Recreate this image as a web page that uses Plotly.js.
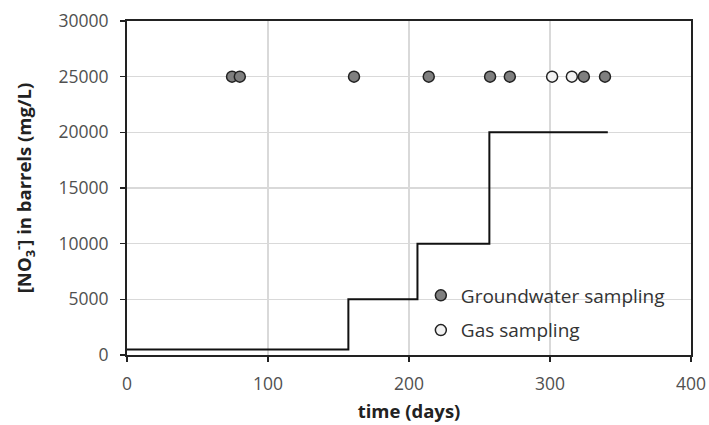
<!DOCTYPE html>
<html><head><meta charset="utf-8">
<script src="https://cdn.plot.ly/plotly-3.0.1.min.js"></script>
<style>body{margin:0;background:#fff}#c{width:709px;height:425px}</style>
</head><body><div id="c"></div>
<script>
const stepDays = [0, 157, 206, 257, 341];
const stepConc = [500, 5000, 10000, 20000, 20000];
const gwDays = [74.5, 80, 161, 214, 257.5, 271.5, 324, 339];
const gwLevel = [25000, 25000, 25000, 25000, 25000, 25000, 25000, 25000];
const gasDays = [301.5, 315.5];
const gasLevel = [25000, 25000];
const xTicks = [0, 100, 200, 300, 400];
const yTicks = [0, 5000, 10000, 15000, 20000, 25000, 30000];

const font = "Open Sans, Liberation Sans, sans-serif";
const traces = [
  {x: stepDays, y: stepConc, mode: 'lines', line: {shape: 'hv', color: '#111', width: 2}, showlegend: false, hoverinfo: 'skip'},
  {x: gwDays, y: gwLevel, mode: 'markers', name: 'Groundwater sampling', legendgroup: 'gw',
   marker: {size: 11, color: '#7f7f7f', line: {color: '#222', width: 1.5}}},
  {x: gasDays, y: gasLevel, mode: 'markers', name: 'Gas sampling', legendgroup: 'gas',
   marker: {size: 11, color: '#f2f2f2', line: {color: '#222', width: 1.5}}}
];
const layout = {
  width: 709, height: 425,
  margin: {l: 127, r: 18, t: 21, b: 70},
  paper_bgcolor: '#fff', plot_bgcolor: '#fff',
  font: {family: font, color: '#404040', size: 17},
  xaxis: {range: [0, 400], tickvals: xTicks, ticktext: xTicks.map(String),
    showgrid: true, gridcolor: '#d9d9d9', gridwidth: 1.5,
    showline: true, linecolor: '#222', linewidth: 2, mirror: true,
    ticks: 'outside', ticklen: 5, tickcolor: '#222', tickwidth: 1.5, zeroline: false,
    ticklabelstandoff: 7,
    tickfont: {size: 17.5, color: '#505050'},
    title: {text: '<b>time (days)</b>', font: {size: 18.5, color: '#222'}, standoff: 11}},
  yaxis: {range: [0, 30000], tickvals: yTicks, ticktext: yTicks.map(String),
    showgrid: true, gridcolor: '#d9d9d9', gridwidth: 1.5,
    showline: true, linecolor: '#222', linewidth: 2, mirror: true,
    ticks: 'outside', ticklen: 5, tickcolor: '#222', tickwidth: 1.5, zeroline: false,
    ticklabelstandoff: 8,
    tickfont: {size: 17.5, color: '#505050'},
    title: {text: '<b>[NO<sub>3</sub><sup>-</sup>] in barrels (mg/L)</b>', font: {size: 18.5, color: '#222'}, standoff: 22}},
  legend: {x: 0.521, y: 0.235, xanchor: 'left', yanchor: 'top', bgcolor: 'rgba(255,255,255,0)',
    font: {size: 19, color: '#333'}, itemwidth: 30, traceorder: 'grouped', tracegroupgap: 7},
  showlegend: true
};
Plotly.newPlot('c', traces, layout, {displayModeBar: false, staticPlot: true});
</script></body></html>
